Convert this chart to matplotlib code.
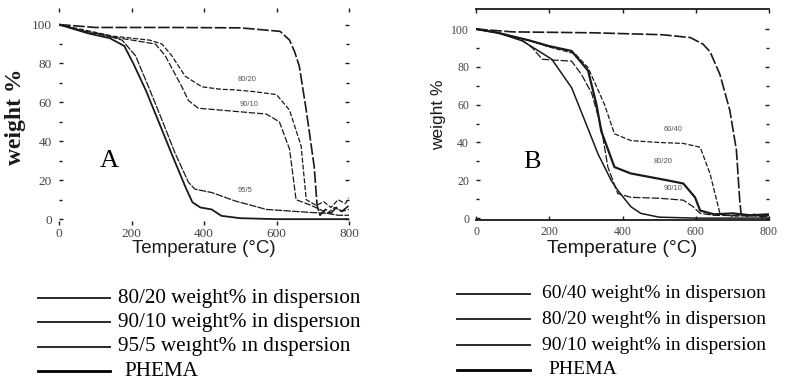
import matplotlib
matplotlib.use("Agg")
import matplotlib.pyplot as plt
from matplotlib.lines import Line2D

# ---------------- data ----------------
# Panel A
A_top_T = [0, 100, 300, 500, 610, 636, 650, 663, 682, 704, 712, 720, 735, 750, 765, 780, 800]
A_top_W = [100, 98.5, 98.5, 98.3, 96.5, 92, 86, 78.5, 56, 27, 7, 2, 5, 3, 6, 4, 7]

A_8020_T = [0, 50, 100, 150, 200, 250, 284, 311, 348, 394, 448, 480, 540, 600, 636, 668, 682, 710, 730, 750, 770, 790, 800]
A_8020_W = [100, 98, 96, 94, 93, 92, 90, 84, 73.5, 68, 66.7, 66.5, 65.5, 64, 56, 37.5, 10, 7, 9, 6, 10, 8, 11]

A_9010_T = [0, 80, 150, 202, 266, 293, 339, 357, 384, 448, 572, 608, 636, 654, 690, 720, 740, 760, 780, 800]
A_9010_W = [100, 96, 93.5, 92, 90, 84, 68, 61, 57, 56, 54, 50, 36, 10, 7.5, 5, 3, 6, 4, 5]

A_955_T = [0, 60, 120, 174, 211, 247, 284, 320, 357, 375, 421, 485, 572, 690, 740, 770, 800]
A_955_W = [100, 97, 95, 92, 84, 68, 51, 34, 19, 15.4, 13.7, 9.4, 5, 3.5, 3, 2, 2]

A_PH_T = [0, 80, 140, 180, 205, 240, 275, 312, 350, 368, 390, 421, 448, 500, 600, 700, 800]
A_PH_W = [100, 95.5, 93, 89, 80, 66, 50, 33, 16, 8.7, 6, 5, 1.7, 0.5, 0, 0, 0]

# Panel B
B_top_T = [0, 100, 323, 508, 585, 620, 639, 666, 693, 711, 720, 724, 740, 760, 780, 800]
B_top_W = [100, 98.5, 98, 97, 95.5, 92, 88, 76, 57, 36, 9.5, 2, 1, 2, 0.5, 1.5]

B_6040_T = [0, 60, 145, 200, 270, 306, 351, 378, 423, 500, 566, 612, 639, 666, 700, 750, 800]
B_6040_W = [100, 98, 94, 90.5, 87, 79.6, 60, 44.6, 41, 40, 39.5, 37.5, 23.5, 2.5, 1, 1.5, 1]

B_8020_T = [0, 60, 145, 199, 261, 306, 329, 342, 378, 423, 522, 566, 598, 612, 650, 700, 750, 800]
B_8020_W = [100, 98, 94, 91, 88.4, 78, 60, 46, 27, 23.6, 20, 18.3, 11, 4, 2, 2.5, 1.5, 2]

B_9010_T = [0, 60, 127, 154, 181, 220, 261, 288, 316, 342, 360, 387, 423, 500, 566, 593, 612, 650, 800]
B_9010_W = [100, 98, 94, 90, 84, 83.5, 83, 76, 66, 48, 27, 13, 11, 10.5, 9.5, 6, 2.5, 1.5, 1]

B_PH_T = [0, 60, 127, 199, 207, 261, 297, 333, 369, 387, 423, 450, 500, 600, 800]
B_PH_W = [100, 98, 93.7, 85, 84, 69, 51.6, 34, 20, 14.7, 6, 2.5, 0.5, 0, 0]

x_ticks = [0, 200, 400, 600, 800]
y_ticks = [0, 20, 40, 60, 80, 100]

legend_A = ["80/20 weight% in dispersıon", "90/10 weight% in dispersıon",
            "95/5 weıght% ın dıspersion", "PHEMA"]
legend_B = ["60/40 weight% in dispersıon", "80/20 weıght% in dispersıon",
            "90/10 weight% in dispersion", "PHEMA"]

curve_labels_A = ["80/20", "90/10", "95/5"]
curve_labels_B = ["60/40", "80/20", "90/10"]

# ---------------- figure ----------------
W, H = 792, 389
fig = plt.figure(figsize=(W / 100, H / 100), dpi=100)
fig.patch.set_facecolor("white")

def fx(px):
    return px / W

def fy(py):
    return 1 - py / H

ink = "#1a1a1a"

def style_axes(ax, ylim, show_tb, lsize, xpad):
    ax.set_xlim(0, 800)
    ax.set_ylim(*ylim)
    ax.set_xticks(x_ticks)
    ax.set_yticks(y_ticks)
    ax.set_yticks(list(range(10, 100, 20)), minor=True)
    ax.tick_params(axis="both", which="both", direction="in", top=True, right=True,
                   length=3, width=1, colors=ink, labelsize=lsize, pad=5)
    ax.tick_params(axis="x", pad=xpad)
    ax.tick_params(axis="both", which="minor", length=2)
    for lab in ax.get_xticklabels() + ax.get_yticklabels():
        lab.set_family("Liberation Serif")
        lab.set_color("#444444")
    for side in ["left", "right"]:
        ax.spines[side].set_visible(False)
    for side in ["top", "bottom"]:
        ax.spines[side].set_visible(show_tb)
        ax.spines[side].set_color(ink)
        ax.spines[side].set_linewidth(1.3)

# ---- Panel A ----
axA = fig.add_axes([fx(59), fy(225), fx(349) - fx(59), fy(8) - fy(225)])
style_axes(axA, (-3, 108.5), False, 9.5, 2.5)
axA.plot(A_top_T, A_top_W, color=ink, lw=1.2, dashes=(7, 1.5))
axA.plot(A_8020_T, A_8020_W, color=ink, lw=0.9, dashes=(4, 1.5))
axA.plot(A_9010_T, A_9010_W, color=ink, lw=0.9, dashes=(5, 1.5))
axA.plot(A_955_T, A_955_W, color=ink, lw=0.9, dashes=(6, 1))
axA.plot(A_PH_T, A_PH_W, color=ink, lw=1.3)
axA.text(113, 26.7, "A", fontsize=19, family="Liberation Serif", color="black")
for lab, (x, y) in zip(curve_labels_A, [(494, 71), (499, 58), (494, 14)]):
    axA.text(x, y, lab, fontsize=5.5, color="#555555", family="Liberation Sans")
axA.set_xlabel("Temperature (°C)", fontsize=13.5, family="Liberation Sans", color=ink, labelpad=0)
axA.set_ylabel("weight %", fontsize=17, family="Liberation Serif", fontweight="bold",
               color=ink, labelpad=4)

# ---- Panel B ----
axB = fig.add_axes([fx(476), fy(220), fx(769) - fx(476), fy(9) - fy(220)])
style_axes(axB, (-1, 110.6), True, 8.5, 4)
axB.plot(B_top_T, B_top_W, color=ink, lw=1.2, dashes=(7, 1.5))
axB.plot(B_6040_T, B_6040_W, color=ink, lw=0.9, dashes=(4, 1.5))
axB.plot(B_8020_T, B_8020_W, color=ink, lw=1.6)
axB.plot(B_9010_T, B_9010_W, color=ink, lw=0.9, dashes=(6, 1.5))
axB.plot(B_PH_T, B_PH_W, color=ink, lw=1.1)
axB.text(128, 26.5, "B", fontsize=19, family="Liberation Serif", color="black")
for lab, (x, y) in zip(curve_labels_B, [(511, 46), (484, 29), (511, 15)]):
    axB.text(x, y, lab, fontsize=5.5, color="#555555", family="Liberation Sans")
axB.set_xlabel("Temperature (°C)", fontsize=14, family="Liberation Sans", color=ink, labelpad=2)
axB.set_ylabel("weight %", fontsize=12.5, family="Liberation Sans", color=ink, labelpad=4)

# ---- legends below panels ----
def draw_legend(labels, x0, x1, xt, rows, size):
    for i, (lab, yrow) in enumerate(zip(labels, rows)):
        last = i == len(labels) - 1
        fig.add_artist(Line2D([fx(x0), fx(x1)], [fy(yrow), fy(yrow)],
                              transform=fig.transFigure,
                              color="black" if last else "#2a2a2a",
                              lw=2.0 if last else 1.4))
        fig.text(fx(xt + (6 if last else 0)), fy(yrow), lab, fontsize=size,
                 family="Liberation Serif", va="center", ha="left", color="black")

draw_legend(legend_A, 38, 110, 118, [298, 322, 347, 371], 15.2)
draw_legend(legend_B, 457, 530, 542, [294, 319, 345, 370], 14)

fig.savefig("out.png", dpi=100, facecolor="white")
